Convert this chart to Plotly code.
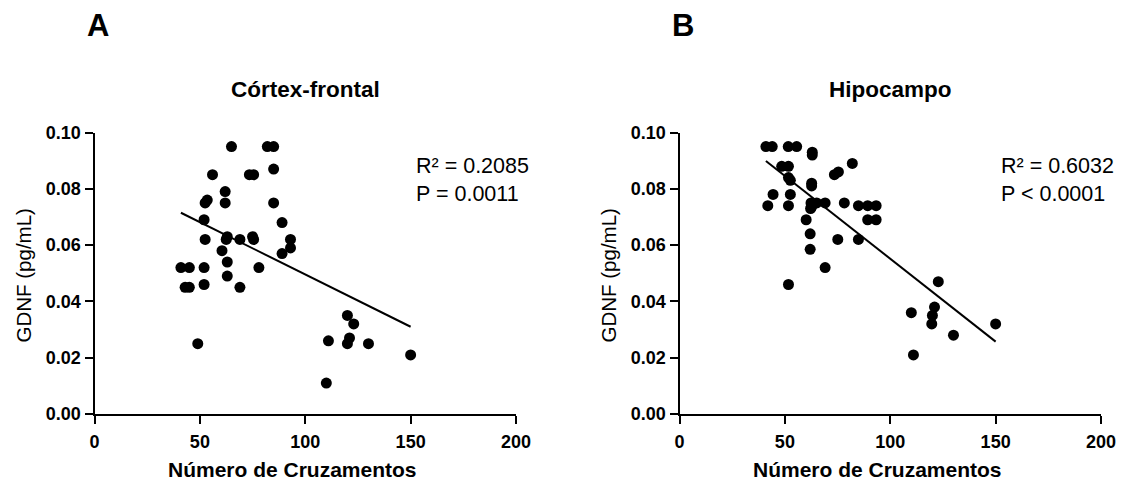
import plotly.graph_objects as go

# Panel A: Córtex-frontal
a_x = [65, 82, 85, 56, 73.5, 75.5, 85, 62, 52.5, 53.5, 62, 85, 52, 89, 52.5, 62.5, 63, 69, 75, 75.5,
       93, 93, 89, 60.5, 41, 45, 52, 63, 78, 63, 43, 45, 52, 69, 49, 120, 123, 111, 121, 120, 130, 150, 110]
a_y = [0.095, 0.095, 0.095, 0.085, 0.085, 0.085, 0.087, 0.079, 0.075, 0.076, 0.075, 0.075, 0.069, 0.068,
       0.062, 0.062, 0.063, 0.062, 0.063, 0.062, 0.062, 0.059, 0.057, 0.058, 0.052, 0.052, 0.052, 0.054,
       0.052, 0.049, 0.045, 0.045, 0.046, 0.045, 0.025, 0.035, 0.032, 0.026, 0.027, 0.025, 0.025, 0.021, 0.011]
a_fit_x = [41, 150]
a_fit_y = [0.0715, 0.031]

# Panel B: Hipocampo
b_x = [41, 44, 51.6, 55.6, 63, 63, 82, 48.5, 51.7, 73.5, 75.4, 51.7, 52.6, 62.7, 62.7, 44.4, 52.6, 41.9,
       51.7, 62.4, 65.1, 69.1, 62.2, 62.7, 78.2, 84.9, 89.3, 93.3, 89.3, 93.3, 60.1, 62, 75.1, 84.9, 62,
       69.1, 51.7, 122.8, 110, 121, 120, 119.7, 130, 150, 111]
b_y = [0.095, 0.095, 0.095, 0.095, 0.093, 0.092, 0.089, 0.088, 0.088, 0.085, 0.086, 0.084, 0.083, 0.082,
       0.081, 0.078, 0.078, 0.074, 0.074, 0.075, 0.075, 0.075, 0.073, 0.0736, 0.075, 0.074, 0.074, 0.074,
       0.069, 0.069, 0.069, 0.064, 0.062, 0.062, 0.0585, 0.052, 0.046, 0.047, 0.036, 0.038, 0.035, 0.032,
       0.028, 0.032, 0.021]
b_fit_x = [41, 150]
b_fit_y = [0.0899, 0.0257]

titles = ["Córtex-frontal", "Hipocampo"]
labels = ["A", "B"]
stats = [["R² = 0.2085", "P = 0.0011"], ["R² = 0.6032", "P < 0.0001"]]
x_title = "Número de Cruzamentos"
y_title = "GDNF (pg/mL)"
x_ticks = [0, 50, 100, 150, 200]
y_ticks = [0.00, 0.02, 0.04, 0.06, 0.08, 0.10]

W, H = 1128, 483
FONT = "Liberation Sans, Arial, sans-serif"

fig = go.Figure()
panels = [(a_x, a_y, a_fit_x, a_fit_y), (b_x, b_y, b_fit_x, b_fit_y)]
x_px = [(94.5, 516), (679.5, 1101)]
y_px = (132.5, 414)

for i, (px, py, fx, fy) in enumerate(panels):
    xa = "x" if i == 0 else "x2"
    ya = "y" if i == 0 else "y2"
    fig.add_trace(go.Scatter(x=fx, y=fy, mode="lines", xaxis=xa, yaxis=ya,
                             line=dict(color="black", width=2), showlegend=False, hoverinfo="skip"))
    fig.add_trace(go.Scatter(x=px, y=py, mode="markers", xaxis=xa, yaxis=ya,
                             marker=dict(color="black", size=11, line=dict(width=0)),
                             showlegend=False))

axis_common = dict(showgrid=False, zeroline=False, showline=True, linecolor="black", linewidth=2,
                   ticks="outside", ticklen=8, tickwidth=2, tickcolor="black", automargin=False,
                   tickfont=dict(family=FONT, size=18, color="black", weight="bold"))


def ann(x, y, text, size, bold=False, angle=0, anchor="center"):
    fig.add_annotation(x=x / W, y=1 - y / H, xref="paper", yref="paper", text=text, showarrow=False,
                       textangle=angle, xanchor=anchor, yanchor="middle",
                       font=dict(family=FONT, size=size, color="black",
                                 weight="bold" if bold else "normal"))


for i in range(2):
    x0, x1 = x_px[i]
    sx = "" if i == 0 else "2"
    fig.layout["xaxis" + sx] = dict(
        axis_common, domain=[x0 / W, x1 / W], range=[0, 200], tickvals=x_ticks,
        anchor="y" + sx, ticklabelstandoff=2)
    fig.layout["yaxis" + sx] = dict(
        axis_common, domain=[1 - y_px[1] / H, 1 - y_px[0] / H], range=[0, 0.10], tickvals=y_ticks,
        tickformat=".2f", anchor="x" + sx)

    cx = (x0 + x1) / 2
    ann(cx, 89.5, titles[i], 22.5, bold=True)
    ann(x0 + 3, 25, labels[i], 31, bold=True)
    ann(cx - 13, 469, x_title, 21, bold=True)
    ann(x0 - 72, 276, y_title, 20.5, angle=-90)
    for j, s in enumerate(stats[i]):
        fig.add_annotation(x=151.5, y=[0.088, 0.078][j], xref="x" + sx, yref="y" + sx, text=s,
                           showarrow=False, font=dict(family=FONT, size=21.5, color="black"),
                           xanchor="left", yanchor="middle")

fig.update_layout(width=W, height=H, margin=dict(l=0, r=0, t=0, b=0),
                  plot_bgcolor="white", paper_bgcolor="white", showlegend=False)

fig.write_html("out.html")
